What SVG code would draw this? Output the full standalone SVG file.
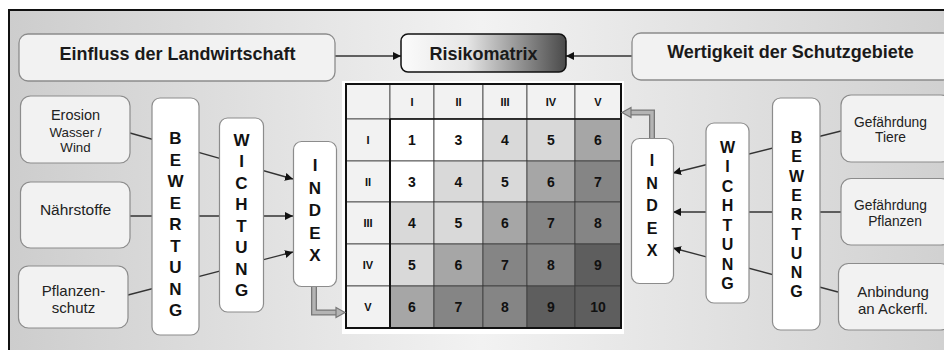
<svg xmlns="http://www.w3.org/2000/svg" width="944" height="350" viewBox="0 0 944 350">
<defs>
<linearGradient id="bg" x1="0" y1="0" x2="1" y2="0">
<stop offset="0" stop-color="#cdcdcd"/>
<stop offset="0.5" stop-color="#f2f2f2"/>
<stop offset="1" stop-color="#d0d0d0"/>
</linearGradient>
<linearGradient id="rg" x1="0" y1="0" x2="1" y2="0">
<stop offset="0" stop-color="#fbfbfb"/>
<stop offset="0.4" stop-color="#e6e6e6"/>
<stop offset="1" stop-color="#4a4a4a"/>
</linearGradient>
<marker id="ah" viewBox="0 0 10 10" refX="10" refY="5" markerWidth="8" markerHeight="8" markerUnits="userSpaceOnUse" orient="auto">
<path d="M0,0 L10,5 L0,10 z" fill="#111"/>
</marker>
<style>
.hb{fill:#f2f2f2;stroke:#8c8c8c;stroke-width:1.3}
.sb{fill:#f2f2f2;stroke:#8c8c8c;stroke-width:1.2}
.vb{fill:#ffffff;stroke:#8c8c8c;stroke-width:1.2}
.ht{font-family:"Liberation Sans",Arial,sans-serif;font-weight:bold;font-size:18px;fill:#1a1a1a;text-anchor:middle}
.st{font-family:"Liberation Sans",Arial,sans-serif;font-size:15px;fill:#222;text-anchor:middle}
.vt{font-family:"Liberation Sans",Arial,sans-serif;font-weight:bold;font-size:17px;fill:#111;text-anchor:middle}
.vt2{font-family:"Liberation Sans",Arial,sans-serif;font-weight:bold;font-size:16px;fill:#111;text-anchor:middle}
.ln{stroke:#333;stroke-width:1.3;fill:none}
.la{stroke:#333;stroke-width:1.3;fill:none;marker-end:url(#ah)}
.ga{stroke:#777;stroke-width:6;fill:none}
.gi{stroke:#b4b4b4;stroke-width:3.4;fill:none}
.gh{fill:#b4b4b4;stroke:#777;stroke-width:1.2}
.mc{stroke:#3a3a3a;stroke-width:0.8}
.mh{fill:#f2f2f2}
.c0{fill:#ffffff}.c1{fill:#d9d9d9}.c2{fill:#a6a6a6}.c3{fill:#858585}.c4{fill:#5e5e5e}
.rn{font-family:"Liberation Sans",Arial,sans-serif;font-weight:bold;font-size:11px;fill:#111;text-anchor:middle}
.nm{font-family:"Liberation Sans",Arial,sans-serif;font-weight:bold;font-size:14px;fill:#111;text-anchor:middle}
</style>
</defs>
<rect x="0" y="0" width="944" height="350" fill="#ffffff"/>
<rect x="9" y="10" width="945" height="350" fill="url(#bg)" stroke="#111" stroke-width="2"/>

<g id="connectors">
<line class="la" x1="335" y1="56" x2="401" y2="56"/>
<line class="la" x1="632" y1="56" x2="566" y2="56"/>
<line class="la" x1="130" y1="133" x2="293" y2="179"/>
<line class="la" x1="130" y1="216" x2="293" y2="216"/>
<line class="la" x1="128" y1="295" x2="293" y2="252"/>
<line class="la" x1="841" y1="131" x2="673" y2="173"/>
<line class="la" x1="841" y1="212" x2="673" y2="212"/>
<line class="la" x1="838" y1="292" x2="673" y2="248"/>
</g>

<g id="head-left"><rect class="hb" x="19" y="34" width="316" height="47" rx="9"/><text class="ht" x="177.5" y="59.5">Einfluss der Landwirtschaft</text></g>
<g id="head-center"><rect x="401" y="34" width="165" height="38" rx="7" fill="url(#rg)" stroke="#111" stroke-width="1.5"/><text class="ht" x="483.5" y="59.5">Risikomatrix</text></g>
<g id="head-right"><rect class="hb" x="632" y="33" width="320" height="47" rx="9"/><text class="ht" x="790.5" y="57.5">Wertigkeit der Schutzgebiete</text></g>

<g id="erosion"><rect class="sb" x="20.5" y="96" width="109.5" height="67" rx="10"/>
<text class="st" x="75.5" y="120" style="font-size:14.5px">Erosion</text>
<text class="st" x="75.5" y="136.5" style="font-size:13.3px">Wasser /</text>
<text class="st" x="75.5" y="152" style="font-size:13.3px">Wind</text></g>
<g id="naehrstoffe"><rect class="sb" x="20.5" y="182" width="109.5" height="66" rx="10"/>
<text class="st" x="75.5" y="214.5" style="font-size:15.5px">Nährstoffe</text></g>
<g id="pflanzenschutz"><rect class="sb" x="18.5" y="266" width="109.5" height="62" rx="10"/>
<text class="st" x="73.5" y="295.5">Pflanzen-</text>
<text class="st" x="73.5" y="313">schutz</text></g>

<g id="bewertung-left"><rect class="vb" x="152" y="98" width="47" height="237" rx="8"/>
<text class="vt" x="175.5" y="144">B</text><text class="vt" x="175.5" y="165.5">E</text><text class="vt" x="175.5" y="187">W</text><text class="vt" x="175.5" y="208.5">E</text><text class="vt" x="175.5" y="230">R</text><text class="vt" x="175.5" y="251.5">T</text><text class="vt" x="175.5" y="273">U</text><text class="vt" x="175.5" y="294.5">N</text><text class="vt" x="175.5" y="316">G</text></g>
<g id="wichtung-left"><rect class="vb" x="219.5" y="118" width="44" height="194" rx="8"/>
<text class="vt" x="241.5" y="146">W</text><text class="vt" x="241.5" y="167.4">I</text><text class="vt" x="241.5" y="188.9">C</text><text class="vt" x="241.5" y="210.3">H</text><text class="vt" x="241.5" y="231.7">T</text><text class="vt" x="241.5" y="253.1">U</text><text class="vt" x="241.5" y="274.6">N</text><text class="vt" x="241.5" y="296">G</text></g>
<g id="index-left"><rect class="vb" x="293.5" y="141.5" width="43" height="145" rx="8"/>
<text class="vt" x="315" y="171">I</text><text class="vt" x="315" y="193.5">N</text><text class="vt" x="315" y="216">D</text><text class="vt" x="315" y="238.5">E</text><text class="vt" x="315" y="261">X</text></g>

<g id="index-right"><rect class="vb" x="631.5" y="138.5" width="42" height="145" rx="8"/>
<text class="vt2" x="652" y="166">I</text><text class="vt2" x="652" y="188.5">N</text><text class="vt2" x="652" y="211">D</text><text class="vt2" x="652" y="233.5">E</text><text class="vt2" x="652" y="256">X</text></g>
<g id="wichtung-right"><rect class="vb" x="706" y="123" width="43" height="180" rx="8"/>
<text class="vt2" x="727.5" y="152.5">W</text><text class="vt2" x="727.5" y="172">I</text><text class="vt2" x="727.5" y="191.5">C</text><text class="vt2" x="727.5" y="211">H</text><text class="vt2" x="727.5" y="230.5">T</text><text class="vt2" x="727.5" y="250">U</text><text class="vt2" x="727.5" y="269.5">N</text><text class="vt2" x="727.5" y="289">G</text></g>
<g id="bewertung-right"><rect class="vb" x="772.5" y="98" width="47.5" height="232" rx="8"/>
<text class="vt2" x="796.5" y="143">B</text><text class="vt2" x="796.5" y="162.3">E</text><text class="vt2" x="796.5" y="181.6">W</text><text class="vt2" x="796.5" y="200.9">E</text><text class="vt2" x="796.5" y="220.2">R</text><text class="vt2" x="796.5" y="239.5">T</text><text class="vt2" x="796.5" y="258.8">U</text><text class="vt2" x="796.5" y="278.1">N</text><text class="vt2" x="796.5" y="297.4">G</text></g>

<g id="tiere"><rect class="sb" x="841" y="95" width="110" height="67" rx="10"/>
<text class="st" x="890.5" y="126.5" style="font-size:13.8px">Gefährdung</text>
<text class="st" x="890.5" y="141.5" style="font-size:13.8px">Tiere</text></g>
<g id="pflanzen"><rect class="sb" x="841" y="178.5" width="110" height="66.5" rx="10"/>
<text class="st" x="890.5" y="210" style="font-size:13.8px">Gefährdung</text>
<text class="st" x="895" y="225.5" style="font-size:13.8px">Pflanzen</text></g>
<g id="anbindung"><rect class="sb" x="838.5" y="263.5" width="112" height="66.5" rx="10"/>
<text class="st" x="893" y="297">Anbindung</text>
<text class="st" x="893" y="313.5">an Ackerfl.</text></g>

<g id="matrix">
<rect x="342" y="81" width="282" height="253" fill="#ffffff"/>
<g class="mc">
<rect class="mh" x="346" y="84" width="44" height="35"/>
<rect class="mh" x="390" y="84" width="44" height="35"/><rect class="mh" x="434" y="84" width="49" height="35"/><rect class="mh" x="483" y="84" width="44" height="35"/><rect class="mh" x="527" y="84" width="48" height="35"/><rect class="mh" x="575" y="84" width="46" height="35"/>
<rect class="mh" x="346" y="119" width="44" height="42"/><rect class="mh" x="346" y="161" width="44" height="41"/><rect class="mh" x="346" y="202" width="44" height="42"/><rect class="mh" x="346" y="244" width="44" height="42"/><rect class="mh" x="346" y="286" width="44" height="42"/>
<rect class="c0" x="390" y="119" width="44" height="42"/><rect class="c0" x="434" y="119" width="49" height="42"/><rect class="c1" x="483" y="119" width="44" height="42"/><rect class="c1" x="527" y="119" width="48" height="42"/><rect class="c2" x="575" y="119" width="46" height="42"/>
<rect class="c0" x="390" y="161" width="44" height="41"/><rect class="c1" x="434" y="161" width="49" height="41"/><rect class="c1" x="483" y="161" width="44" height="41"/><rect class="c2" x="527" y="161" width="48" height="41"/><rect class="c3" x="575" y="161" width="46" height="41"/>
<rect class="c1" x="390" y="202" width="44" height="42"/><rect class="c1" x="434" y="202" width="49" height="42"/><rect class="c2" x="483" y="202" width="44" height="42"/><rect class="c3" x="527" y="202" width="48" height="42"/><rect class="c3" x="575" y="202" width="46" height="42"/>
<rect class="c1" x="390" y="244" width="44" height="42"/><rect class="c2" x="434" y="244" width="49" height="42"/><rect class="c3" x="483" y="244" width="44" height="42"/><rect class="c3" x="527" y="244" width="48" height="42"/><rect class="c4" x="575" y="244" width="46" height="42"/>
<rect class="c2" x="390" y="286" width="44" height="42"/><rect class="c3" x="434" y="286" width="49" height="42"/><rect class="c3" x="483" y="286" width="44" height="42"/><rect class="c4" x="527" y="286" width="48" height="42"/><rect class="c4" x="575" y="286" width="46" height="42"/>
</g>
<line x1="390" y1="119" x2="390" y2="328" stroke="#111" stroke-width="2"/>
<line x1="390" y1="119" x2="621" y2="119" stroke="#111" stroke-width="1.4"/>
<rect x="346" y="84" width="275" height="244" fill="none" stroke="#111" stroke-width="2"/>
<text class="rn" x="412" y="105.5">I</text><text class="rn" x="458.5" y="105.5">II</text><text class="rn" x="505" y="105.5">III</text><text class="rn" x="551" y="105.5">IV</text><text class="rn" x="598" y="105.5">V</text>
<text class="rn" x="368" y="144">I</text><text class="rn" x="368" y="185.5">II</text><text class="rn" x="368" y="227">III</text><text class="rn" x="368" y="269">IV</text><text class="rn" x="368" y="311">V</text>
<text class="nm" x="412" y="145">1</text><text class="nm" x="458.5" y="145">3</text><text class="nm" x="505" y="145">4</text><text class="nm" x="551" y="145">5</text><text class="nm" x="598" y="145">6</text>
<text class="nm" x="412" y="186.5">3</text><text class="nm" x="458.5" y="186.5">4</text><text class="nm" x="505" y="186.5">5</text><text class="nm" x="551" y="186.5">6</text><text class="nm" x="598" y="186.5">7</text>
<text class="nm" x="412" y="228">4</text><text class="nm" x="458.5" y="228">5</text><text class="nm" x="505" y="228">6</text><text class="nm" x="551" y="228">7</text><text class="nm" x="598" y="228">8</text>
<text class="nm" x="412" y="270">5</text><text class="nm" x="458.5" y="270">6</text><text class="nm" x="505" y="270">7</text><text class="nm" x="551" y="270">8</text><text class="nm" x="598" y="270">9</text>
<text class="nm" x="412" y="312">6</text><text class="nm" x="458.5" y="312">7</text><text class="nm" x="505" y="312">8</text><text class="nm" x="551" y="312">9</text><text class="nm" x="598" y="312">10</text>
</g>

<g id="block-arrows">
<path class="ga" d="M314 287 V312.5 H337"/>
<path class="gi" d="M314 287 V312.5 H337"/>
<polygon class="gh" points="336,307.5 345,312.5 336,317.5"/>
<path class="ga" d="M652 138 V112.5 H631"/>
<path class="gi" d="M652 138 V112.5 H631"/>
<polygon class="gh" points="631,107.5 622,112.5 631,117.5"/>
</g>
</svg>
